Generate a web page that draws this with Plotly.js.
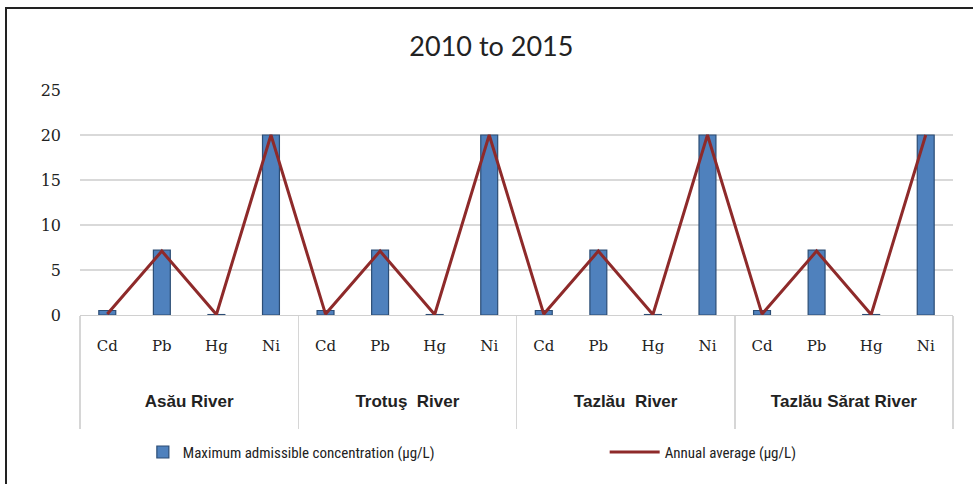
<!DOCTYPE html>
<html>
<head>
<meta charset="utf-8">
<script src="https://cdn.plot.ly/plotly-3.0.1.min.js"></script>
<style>
html,body{margin:0;padding:0;background:#fff;}
#wrap{position:relative;width:973px;height:484px;overflow:hidden;}
#chart{position:absolute;left:0;top:0;width:973px;height:484px;}
#frame{position:absolute;left:5px;top:7px;width:1000px;height:475px;border-left:2px solid #222;border-top:2px solid #222;border-bottom:1px solid #ddd;pointer-events:none;}
</style>
</head>
<body>
<div id="wrap"><div id="chart"></div><div id="frame"></div></div>
<script>
const rivers = ['Asău River','Asău River','Asău River','Asău River',
  'Trotuş  River','Trotuş  River','Trotuş  River','Trotuş  River',
  'Tazlău  River','Tazlău  River','Tazlău  River','Tazlău  River',
  'Tazlău Sărat River','Tazlău Sărat River','Tazlău Sărat River','Tazlău Sărat River'];
const metals = ['Cd','Pb','Hg','Ni','Cd','Pb','Hg','Ni','Cd','Pb','Hg','Ni','Cd','Pb','Hg','Ni'];
const maxAdmissible = [0.5, 7.2, 0.05, 20, 0.5, 7.2, 0.05, 20, 0.5, 7.2, 0.05, 20, 0.5, 7.2, 0.05, 20];
const annualAverage = [0.1, 7.1, 0.05, 20, 0.1, 7.1, 0.05, 20, 0.1, 7.1, 0.05, 20, 0.1, 7.1, 0.05, 20];
const yTicks = [0, 5, 10, 15, 20, 25];
const seriesNames = ['Maximum admissible concentration (µg/L)', 'Annual average (µg/L)'];

// display labels (spacing/styling applied here, not in the data)
const groupLabels = rivers.map(r => '<br>\u00a0<br>\u00a0<br><span style="font-family:Liberation Sans, Arial, sans-serif;font-weight:bold;font-size:17px">' + r.replace(/  /g, '\u00a0 ') + '</span><br>\u00a0');
const metalLabels = metals.map(m => '<br><span style="font-size:15px">' + m + '</span>');

const traces = [
  {type:'bar', name:seriesNames[0], x:[groupLabels, metalLabels], y:maxAdmissible, legend:'legend',
   width:0.31, marker:{color:'#4F81BD', line:{color:'#2C4D75', width:1.2}}},
  {type:'scatter', mode:'lines', name:seriesNames[1], x:[groupLabels, metalLabels], y:annualAverage, legend:'legend2',
   line:{color:'#8E2A2A', width:3}}
];

const legendFont = {size:15, family:'"Liberation Sans Narrow", "Roboto Condensed", Lato, sans-serif', color:'#222'};
const layout = {
  width:973, height:484,
  margin:{l:80, r:20, t:90, b:169},
  paper_bgcolor:'#fff', plot_bgcolor:'#fff',
  font:{family:'Lato, "Open Sans", sans-serif', color:'#222'},
  title:{text:'2010 to 2015', font:{size:27, family:'Lato, sans-serif', color:'#222'}, x:0.505, xanchor:'center', y:0.903, yanchor:'middle'},
  showlegend:true,
  legend:{orientation:'h', x:0.072, xanchor:'left', y:-0.61, yanchor:'middle', font:legendFont, bgcolor:'rgba(0,0,0,0)'},
  legend2:{orientation:'h', x:0.601, xanchor:'left', y:-0.61, yanchor:'middle', font:legendFont, itemwidth:50, bgcolor:'rgba(0,0,0,0)'},
  bargap:0.69,
  xaxis:{type:'multicategory', showline:true, linecolor:'#D0D0D0', linewidth:1, showgrid:false,
    showdividers:true, dividercolor:'#D6D6D6', dividerwidth:1.5,
    ticks:'',
    tickfont:{size:14, family:'"DejaVu Serif", serif', color:'#222'}},
  yaxis:{range:[0,25], tickvals:yTicks, showgrid:true, gridcolor:'#D9D9D9', gridwidth:1.5,
    zeroline:false, showline:false, ticks:'', ticklabelstandoff:18,
    tickfont:{size:16, family:'"DejaVu Serif", serif', color:'#222'}}
};
Plotly.newPlot('chart', traces, layout, {displayModeBar:false, staticPlot:true});
</script>
</body>
</html>
